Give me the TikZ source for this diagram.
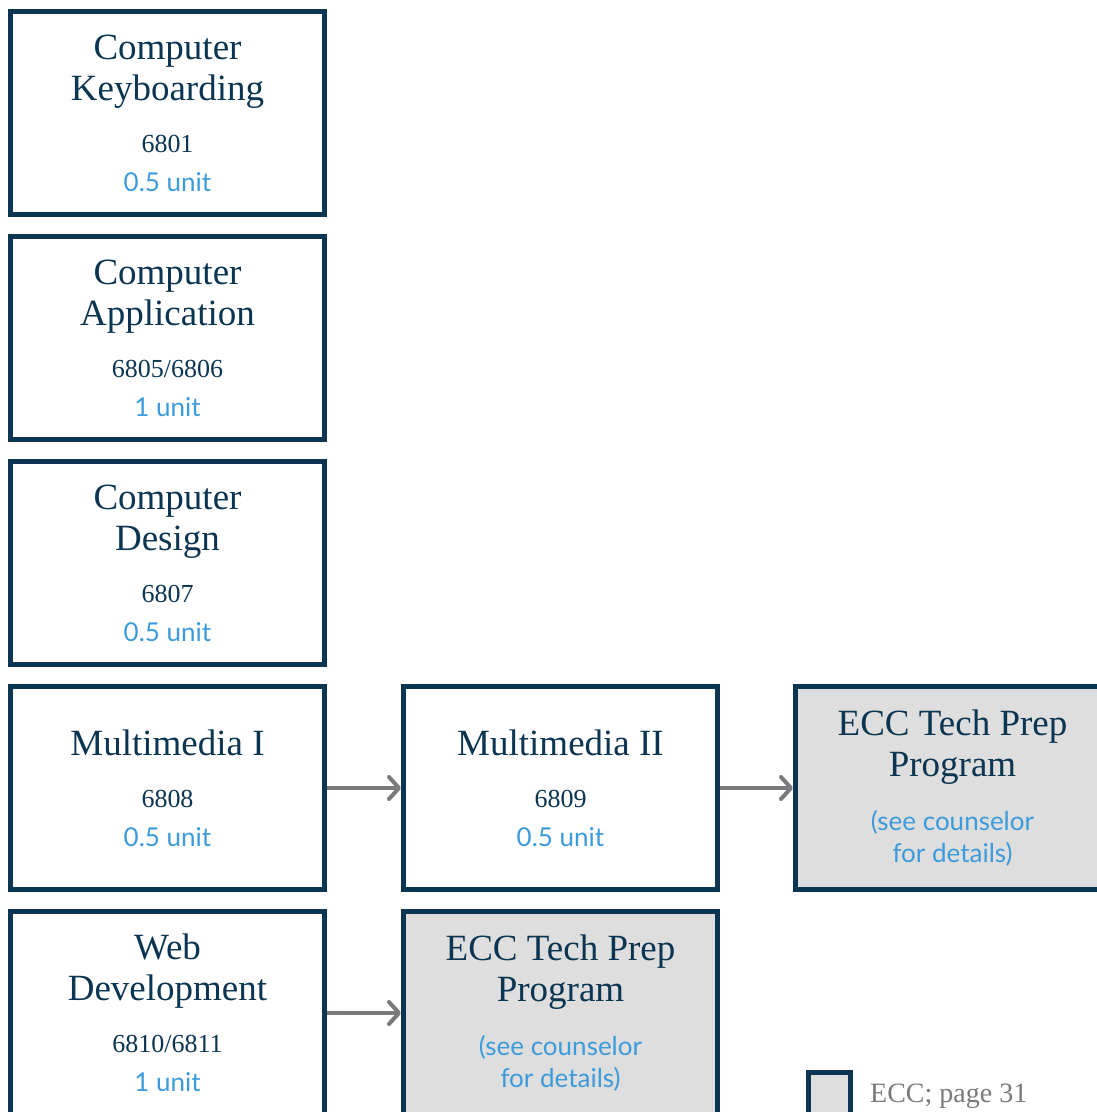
\documentclass[tikz,border=0pt]{standalone}
\usepackage{fontspec}
\setmainfont{Liberation Serif}
\newfontfamily\latofont{Lato}
\usetikzlibrary{shapes, arrows.meta}
\definecolor{navy}{HTML}{0B3551}
\definecolor{skyblue}{HTML}{3C9BDB}
\definecolor{arrowgray}{HTML}{7A7A7A}
\definecolor{eccgray}{HTML}{DEDEDE}
\newcommand{\ccode}[1]{{\fontsize{26}{38}\selectfont #1}}
\newcommand{\cunit}[1]{{\latofont\fontsize{26}{32}\selectfont\color{skyblue}#1}}
\tikzstyle{course} =
        [
                rectangle,
                draw = navy,
                line width = 5pt,
                text = navy,
                minimum width = 314pt,
                minimum height = 203pt,
                align = center,
                font = \fontsize{37}{41}\selectfont
        ]
\tikzstyle{ecc} =
        [
                course,
                fill = eccgray
        ]
\tikzstyle{line} =
        [
                draw = arrowgray,
                line width = 4pt,
                -{Straight Barb[length = 10pt, width = 22pt, line cap = round, line join = round]}
        ]
\tikzstyle{legend} =
        [
                rectangle,
                draw = navy,
                fill = eccgray,
                line width = 5pt,
                minimum size = 42pt,
                inner sep = 0pt
        ]
\begin{document}
\begin{tikzpicture}[x = 1pt, y = 1pt, node distance = 225pt]
        \useasboundingbox (0,0) rectangle (1097,-1112);
        \node [course] (keyboarding) at (167.5,-113) {Computer\\Keyboarding\\[11pt]\ccode{6801}\\[-2pt]\cunit{0.5 unit}};
        \node [course, below of = keyboarding] (application) {Computer\\Application\\[11pt]\ccode{6805/6806}\\[-2pt]\cunit{1 unit}};
        \node [course, below of = application] (design) {Computer\\Design\\[11pt]\ccode{6807}\\[-2pt]\cunit{0.5 unit}};
        \node [course, below of = design] (mmone) {Multimedia I\\[11pt]\ccode{6808}\\[-2pt]\cunit{0.5 unit}};
        \node [course, below of = mmone] (webdev) {Web\\Development\\[11pt]\ccode{6810/6811}\\[-2pt]\cunit{1 unit}};
        \node [course, right of = mmone, node distance = 393pt] (mmtwo) {Multimedia II\\[11pt]\ccode{6809}\\[-2pt]\cunit{0.5 unit}};
        \node [ecc, right of = mmtwo, node distance = 392pt] (eccmm) {ECC Tech Prep\\Program\\[13pt]\cunit{(see counselor}\\[-9pt]\cunit{for details)}};
        \node [ecc, right of = webdev, node distance = 393pt] (eccweb) {ECC Tech Prep\\Program\\[13pt]\cunit{(see counselor}\\[-9pt]\cunit{for details)}};
        % legend
        \node [legend] (key) at (829.5,-1093.5) {};
        \node [anchor = west, text = arrowgray, font = \fontsize{28}{32}\selectfont, inner sep = 0pt] (keytext) at (870,-1096) {ECC; page 31};

        \path [line] (mmone) -- (mmtwo);
        \path [line] (mmtwo) -- (eccmm);
        \path [line] (webdev) -- (eccweb);
\end{tikzpicture}
\end{document}
